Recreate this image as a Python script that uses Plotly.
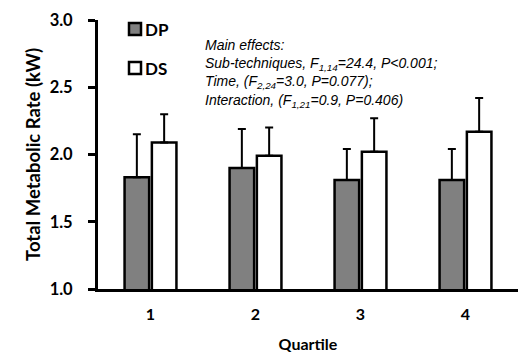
import plotly.graph_objects as go

quartiles = ["1", "2", "3", "4"]
dp_mean = [1.83, 1.90, 1.81, 1.81]
dp_err = [0.32, 0.29, 0.23, 0.23]
ds_mean = [2.09, 1.99, 2.02, 2.17]
ds_err = [0.21, 0.21, 0.25, 0.25]
series_names = ["DP", "DS"]
y_ticks = [1.0, 1.5, 2.0, 2.5, 3.0]
stats_text = ("<i>Main effects:<br>"
              "Sub-techniques, F<sub>1,14</sub>=24.4, P&lt;0.001;<br>"
              "Time, (F<sub>2,24</sub>=3.0, P=0.077);<br>"
              "Interaction, (F<sub>1,21</sub>=0.9, P=0.406)</i>")

FONT = "Lato"
L, R, T, B = 98, 5, 20, 64
W, H = 523, 353
PW, PH = W - L - R, H - T - B


def px(xp):
    return (xp - L) / PW


def py(yp):
    return (H - B - yp) / PH


fig = go.Figure()
fig.add_trace(go.Bar(
    x=quartiles, y=dp_mean, name=series_names[0],
    marker=dict(color="#808080", line=dict(color="black", width=2.5)),
    error_y=dict(type="data", array=dp_err, arrayminus=[0]*4, symmetric=False,
                 color="black", thickness=2, width=4),
    showlegend=False,
))
fig.add_trace(go.Bar(
    x=quartiles, y=ds_mean, name=series_names[1],
    marker=dict(color="white", line=dict(color="black", width=2.5)),
    error_y=dict(type="data", array=ds_err, arrayminus=[0]*4, symmetric=False,
                 color="black", thickness=2, width=4),
    showlegend=False,
))

# custom legend
legend_y = [29, 68]
legend_colors = ["#808080", "white"]
for name, yy, col in zip(series_names, legend_y, legend_colors):
    fig.add_shape(type="rect", xref="paper", yref="paper",
                  x0=px(129), x1=px(141), y0=py(yy + 6), y1=py(yy - 6),
                  fillcolor=col, line=dict(color="black", width=2.5))
    fig.add_annotation(x=px(143), y=py(yy), xref="paper", yref="paper", text=f"<b>{name}</b>",
                       showarrow=False, xanchor="left", yanchor="middle",
                       font=dict(family=FONT, size=17, color="black"))

fig.add_annotation(x=px(203), y=py(73), xref="paper", yref="paper", text=stats_text,
                   showarrow=False, align="left", xanchor="left", yanchor="middle",
                   font=dict(family="Liberation Sans, Arial", size=14, color="black"))

fig.update_layout(
    width=W, height=H,
    margin=dict(l=L, r=R, t=T, b=B),
    paper_bgcolor="white", plot_bgcolor="white",
    barmode="group", bargap=0.48, bargroupgap=0.1,
    font=dict(family=FONT, color="black"),
    xaxis=dict(
        type="category", range=[-0.5, 3.5], automargin=False,
        showline=True, linecolor="black", linewidth=3,
        ticks="outside", ticklen=9, tickcolor="rgba(0,0,0,0)",
        tickfont=dict(family=FONT, size=16, color="black"),
        tickprefix="<b>", ticksuffix="</b>",
        title=dict(text="<b>Quartile</b>", font=dict(family=FONT, size=16), standoff=19),
        showgrid=False, zeroline=False,
    ),
    yaxis=dict(
        range=[1, 3], tickvals=y_ticks, ticktext=[f"<b>{v:.1f}</b>" for v in y_ticks],
        automargin=False,
        showline=True, linecolor="black", linewidth=3,
        ticks="outside", ticklen=7, tickwidth=2.5, tickcolor="black",
        ticklabelstandoff=12,
        tickfont=dict(family=FONT, size=16.5, color="black"),
        title=dict(text="<b>Total Metabolic Rate (kW)</b>", font=dict(family=FONT, size=18.5), standoff=5),
        showgrid=False, zeroline=False,
    ),
)

fig.write_html("out.html", config={"displayModeBar": False},
               post_script="document.body.style.margin='0';document.body.style.overflow='hidden';")
